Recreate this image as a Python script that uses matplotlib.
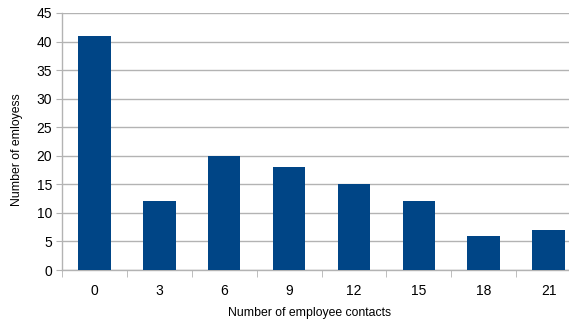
import matplotlib

matplotlib.use("Agg")
import matplotlib.pyplot as plt
import numpy as np

contacts = ["0", "3", "6", "9", "12", "15", "18", "21"]
employees = [41, 12, 20, 18, 15, 12, 6, 7]

BAR_COLOR = "#004586"
GRID_COLOR = "#b3b3b3"

plt.rcParams["font.family"] = ["Liberation Sans", "DejaVu Sans"]

fig = plt.figure(figsize=(5.69, 3.22), dpi=100)
# plot area runs past the right edge of the picture, as in the reference
ax = fig.add_axes([62 / 569, 1 - 270 / 322, 519 / 569, 257 / 322])

x = np.arange(len(contacts))
ax.bar(x, employees, width=0.5, color=BAR_COLOR, zorder=3)

ax.set_xlim(-0.5, len(contacts) - 0.5)
ax.set_ylim(0, 45)
ax.set_yticks(range(0, 46, 5))
ax.set_xticks(x)
ax.set_xticklabels(contacts)
ax.set_xticks(np.arange(-0.5, len(contacts), 1), minor=True)

ax.yaxis.grid(True, color=GRID_COLOR, linewidth=1.0, zorder=0)
for side in ("top", "right"):
    ax.spines[side].set_visible(False)
for side in ("left", "bottom"):
    ax.spines[side].set_color(GRID_COLOR)
    ax.spines[side].set_linewidth(1.0)

ax.tick_params(axis="y", length=4, color=GRID_COLOR, labelsize=10, pad=3)
ax.tick_params(axis="x", which="major", length=0, labelsize=10, pad=10)
ax.tick_params(axis="x", which="minor", length=5, color=GRID_COLOR)

ax.set_xlabel("Number of employee contacts", fontsize=8.8)
ax.xaxis.set_label_coords((310 - 62) / 519, -0.145)
ax.set_ylabel("Number of emloyess", fontsize=8.8)
ax.yaxis.set_label_coords((17 - 62) / 519, (270 - 150) / 257)
ax.yaxis.label.set_verticalalignment("center")

fig.savefig("out.png", dpi=100)
